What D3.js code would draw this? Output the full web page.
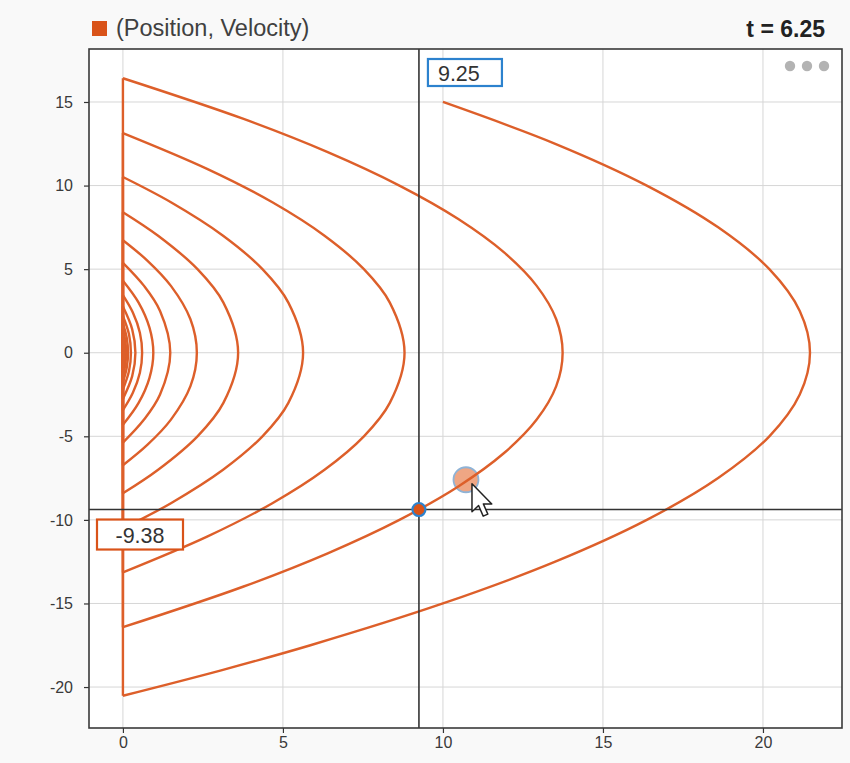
<!DOCTYPE html>
<html>
<head>
<meta charset="utf-8">
<script src="https://cdn.jsdelivr.net/npm/d3@7"></script>
<style>
  html, body { margin: 0; padding: 0; background: #f9f9f9; }
  svg { display: block; font-family: "Liberation Sans", Arial, sans-serif; }
</style>
</head>
<body>
<svg id="chart" width="850" height="763"></svg>
<script>
// ---- data ----
const seriesName = "(Position, Velocity)";
const timeLabel = "t = 6.25";
const xTicks = [0, 5, 10, 15, 20];
const yTicks = [-20, -15, -10, -5, 0, 5, 10, 15];
const xDomain = [-1.06, 22.47];
const yDomain = [-22.45, 18.17];

// each arc: [position, velocity] points between two bounces
const arc1 = [[10.00,15],[13.51,12.5],[16.37,10],[18.60,7.5],[20.20,5],[21.15,2.5],[21.47,0],[21.15,-2.5],[20.20,-5],[18.60,-7.5],[16.37,-10],[13.51,-12.5],[10.00,-15],[5.86,-17.5],[3.07,-19],[0,-20.52]];
const arc2 = [[0,16.42],[3.75,14],[6.40,12],[8.64,10],[10.48,8],[11.91,6],[12.93,4],[13.54,2],[13.74,0],[13.54,-2],[12.93,-4],[11.91,-6],[10.48,-8],[8.64,-10],[6.40,-12],[3.75,-14],[0,-16.42]];
const arc3 = [[0,13.14],[2.63,11],[4.67,9],[6.30,7],[7.53,5],[8.34,3],[8.80,0],[8.34,-3],[7.53,-5],[6.30,-7],[4.67,-9],[2.63,-11],[0,-13.14]];
const arc4 = [[0,10.51],[1.50,9],[3.13,7],[4.36,5],[5.17,3],[5.63,0],[5.17,-3],[4.36,-5],[3.13,-7],[1.50,-9],[0,-10.51]];
const arc5 = [[0,8.41],[1.10,7],[2.33,5],[3.14,3],[3.60,0],[3.14,-3],[2.33,-5],[1.10,-7],[0,-8.41]];
const arc6 = [[0,6.73],[0.77,5.5],[1.50,4],[2.11,2],[2.31,0],[2.11,-2],[1.50,-4],[0.77,-5.5],[0,-6.73]];
const arc7 = [[0,5.38],[0.66,4],[1.16,2.5],[1.48,0],[1.16,-2.5],[0.66,-4],[0,-5.38]];
const arc8 = [[0,4.31],[0.49,3],[0.83,1.5],[0.95,0],[0.83,-1.5],[0.49,-3],[0,-4.31]];
const arc9 = [[0,3.44],[0.31,2.4],[0.53,1.2],[0.60,0],[0.53,-1.2],[0.31,-2.4],[0,-3.44]];
const arc10 = [[0,2.76],[0.29,1.4],[0.39,0],[0.29,-1.4],[0,-2.76]];
const arc11 = [[0,2.20],[0.19,1.1],[0.25,0],[0.19,-1.1],[0,-2.20]];
const arc12 = [[0,1.76],[0.12,0.88],[0.16,0],[0.12,-0.88],[0,-1.76]];
const arc13 = [[0,1.41],[0.075,0.7],[0.10,0],[0.075,-0.7],[0,-1.41]];
const arc14 = [[0,1.13],[0.05,0.56],[0.065,0],[0.05,-0.56],[0,-1.13]];
const arc15 = [[0,0.90],[0.03,0.45],[0.04,0],[0.03,-0.45],[0,-0.90]];
const arcs = [arc1, arc2, arc3, arc4, arc5, arc6, arc7, arc8, arc9, arc10, arc11, arc12, arc13, arc14, arc15];

const crossPoint = [9.25, -9.38];
const crossXLabel = "9.25";
const crossYLabel = "-9.38";
const hoverPoint = [10.72, -7.6];

// ---- styles ----
const orange = "#D95319";
const blue = "#2C82CE";
const textColor = "#333333";

const svg = d3.select("#chart");
const W = 850, H = 763;
const plot = { left: 89, right: 842, top: 49, bottom: 728 };

svg.append("rect").attr("width", W).attr("height", H).attr("fill", "#f9f9f9");

const x = d3.scaleLinear().domain(xDomain).range([plot.left, plot.right]);
const y = d3.scaleLinear().domain(yDomain).range([plot.bottom, plot.top]);

// plot background
svg.append("rect")
  .attr("x", plot.left).attr("y", plot.top)
  .attr("width", plot.right - plot.left).attr("height", plot.bottom - plot.top)
  .attr("fill", "#ffffff");

// grid
const grid = svg.append("g");
grid.selectAll("line.gx").data(xTicks).join("line")
  .attr("x1", d => x(d)).attr("x2", d => x(d))
  .attr("y1", plot.top).attr("y2", plot.bottom)
  .attr("stroke", "#d6d6d6").attr("stroke-width", 1);
grid.selectAll("line.gy").data(yTicks).join("line")
  .attr("y1", d => y(d)).attr("y2", d => y(d))
  .attr("x1", plot.left).attr("x2", plot.right)
  .attr("stroke", "#d6d6d6").attr("stroke-width", 1);

// axes
const fmt = d => String(d);
const xAxis = svg.append("g")
  .attr("transform", `translate(0,${plot.bottom})`)
  .call(d3.axisBottom(x).tickValues(xTicks).tickSize(5).tickPadding(4).tickFormat(fmt));
const yAxis = svg.append("g")
  .attr("transform", `translate(${plot.left},0)`)
  .call(d3.axisLeft(y).tickValues(yTicks).tickSize(5).tickPadding(11).tickFormat(fmt));
[xAxis, yAxis].forEach(a => {
  a.select(".domain").remove();
  a.selectAll(".tick line").attr("stroke", "#333").attr("stroke-width", 1.2);
  a.selectAll(".tick text").attr("fill", "#3a3a3a").attr("font-size", 16)
    .attr("font-family", "'Liberation Sans', Arial, sans-serif");
});

// clip
svg.append("defs").append("clipPath").attr("id", "clip")
  .append("rect").attr("x", plot.left).attr("y", plot.top)
  .attr("width", plot.right - plot.left).attr("height", plot.bottom - plot.top);

const g = svg.append("g").attr("clip-path", "url(#clip)");

// hover marker (under the line)
g.append("circle")
  .attr("cx", x(hoverPoint[0])).attr("cy", y(hoverPoint[1])).attr("r", 12.5)
  .attr("fill", "#EFA684").attr("stroke", "#8FB3D6").attr("stroke-width", 1.8);

const curveLine = d3.line()
  .x(d => x(d[0])).y(d => y(d[1]))
  .curve(d3.curveCatmullRom.alpha(0.5));
const straightLine = d3.line().x(d => x(d[0])).y(d => y(d[1]));

const bounces = arcs.slice(0, -1).map((a, i) => [a[a.length - 1], arcs[i + 1][0]]);

g.selectAll("path.bounce").data(bounces).join("path")
  .attr("d", straightLine)
  .attr("fill", "none").attr("stroke", "#DD5F2A").attr("stroke-width", 2.4);
g.selectAll("path.arc").data(arcs).join("path")
  .attr("d", curveLine)
  .attr("fill", "none").attr("stroke", "#DD5F2A").attr("stroke-width", 2.4)
  .attr("stroke-linejoin", "round");

// crosshair
g.append("line")
  .attr("x1", x(crossPoint[0])).attr("x2", x(crossPoint[0]))
  .attr("y1", plot.top).attr("y2", plot.bottom)
  .attr("stroke", "#333").attr("stroke-width", 1.6);
g.append("line")
  .attr("y1", y(crossPoint[1])).attr("y2", y(crossPoint[1]))
  .attr("x1", plot.left).attr("x2", plot.right)
  .attr("stroke", "#333").attr("stroke-width", 1.6);

// crosshair point
g.append("circle")
  .attr("cx", x(crossPoint[0])).attr("cy", y(crossPoint[1])).attr("r", 6.5)
  .attr("fill", orange).attr("stroke", blue).attr("stroke-width", 2.2);

// plot border
svg.append("rect")
  .attr("x", plot.left).attr("y", plot.top)
  .attr("width", plot.right - plot.left).attr("height", plot.bottom - plot.top)
  .attr("fill", "none").attr("stroke", "#3a3a3a").attr("stroke-width", 1.6);

// value boxes
const xBox = svg.append("g").attr("transform", `translate(${x(crossPoint[0]) + 9},${plot.top + 10})`);
xBox.append("rect").attr("width", 74).attr("height", 27)
  .attr("fill", "#fff").attr("stroke", blue).attr("stroke-width", 2.2);
xBox.append("text").attr("x", 10).attr("y", 21.5).text(crossXLabel)
  .attr("font-size", 21.5).attr("fill", textColor);

const yBox = svg.append("g").attr("transform", `translate(97,${y(crossPoint[1]) + 10})`);
yBox.append("rect").attr("width", 86).attr("height", 30)
  .attr("fill", "#fff").attr("stroke", orange).attr("stroke-width", 2.2);
yBox.append("text").attr("x", 43).attr("y", 23).attr("text-anchor", "middle").text(crossYLabel)
  .attr("font-size", 21.5).attr("fill", textColor);

// mouse cursor at the hover marker
const cur = svg.append("g")
  .attr("transform", `translate(${x(hoverPoint[0]) + 6},${y(hoverPoint[1]) + 4}) scale(1.65)`);
cur.append("path")
  .attr("d", "M0,0 L0,17 L4,13.2 L6.8,19.6 L9.6,18.4 L6.9,12.2 L12,12.2 Z")
  .attr("fill", "#fff").attr("stroke", "#222").attr("stroke-width", 0.9).attr("stroke-linejoin", "round");

// menu dots
svg.selectAll("circle.dot").data([0, 1, 2]).join("circle")
  .attr("cx", d => 790 + d * 17).attr("cy", 66).attr("r", 5.2).attr("fill", "#b3b3b3");

// legend
svg.append("rect").attr("x", 92).attr("y", 21).attr("width", 15).attr("height", 15).attr("fill", orange);
svg.append("text").attr("x", 116).attr("y", 36).text(seriesName)
  .attr("font-size", 23.5).attr("fill", "#404040");

// time label
svg.append("text").attr("x", 825).attr("y", 37).attr("text-anchor", "end").text(timeLabel)
  .attr("font-size", 23).attr("font-weight", "bold").attr("fill", "#222");
</script>
</body>
</html>
